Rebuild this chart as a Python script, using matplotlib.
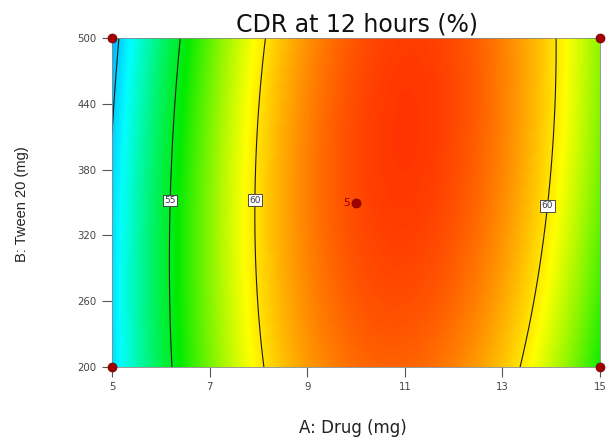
"""Design-Expert style contour of CDR at 12 hours over Drug and Tween 20."""

import numpy as np
import matplotlib.pyplot as plt
from matplotlib.colors import LinearSegmentedColormap, Normalize

plt.rcParams.update({
    'font.family': ['DejaVu Sans'],
})

# ── Model (coded units: A = (drug-10)/5, B = (tween-350)/150) ────────────────
term_names = ['Intercept', 'A', 'B', 'AB', 'A^2', 'B^2']
coefs = [63.03, 3.46, 0.235, 0.716, -9.30, -0.435]

drug_range = [5, 15]
tween_range = [200, 500]
x_ticks = [5, 7, 9, 11, 13, 15]
y_ticks = [200, 260, 320, 380, 440, 500]

plain_levels = [50]
labelled_levels = [55, 60]
label_spots = [(6.15, 352), (7.9, 352), (13.95, 347)]

design_drug = [5, 5, 15, 15, 10]
design_tween = [200, 500, 200, 500, 350]
center_runs = 5

# colour stops (response value, colour)
stop_vals = [48.0, 51.0, 55.5, 59.5, 64.5]
stop_cols = ['#0078ff', '#00ffff', '#00eb00', '#ffff00', '#ff0000']


def response(drug, tween):
    a = (drug - 10) / 5
    b = (tween - 350) / 150
    b0, b1, b2, b12, b11, b22 = coefs
    return b0 + b1*a + b2*b + b12*a*b + b11*a**2 + b22*b**2


fig = plt.figure(figsize=(6.09, 4.38), dpi=100, facecolor='white')
ax = fig.add_axes([0.1839, 0.1621, 0.8013, 0.7511])

xs = np.linspace(*drug_range, 300)
ys = np.linspace(*tween_range, 300)
X, Y = np.meshgrid(xs, ys)
Z = response(X, Y)

vmin, vmax = stop_vals[0], stop_vals[-1]
pos = [(v - vmin) / (vmax - vmin) for v in stop_vals]
cmap = LinearSegmentedColormap.from_list('de', list(zip(pos, stop_cols)))

ax.imshow(Z, origin='lower', aspect='auto', cmap=cmap,
          norm=Normalize(vmin, vmax),
          extent=[*drug_range, *tween_range], interpolation='bilinear')

ax.contour(X, Y, Z, levels=plain_levels, colors='#1a1a1a', linewidths=0.8)
cs = ax.contour(X, Y, Z, levels=labelled_levels, colors='#1a1a1a',
                linewidths=0.8)
labels = ax.clabel(cs, inline=False, fontsize=6.5, fmt='%d',
                   manual=label_spots)
for t in labels:
    t.set_rotation(0)
    t.set_color('#3a3a4a')
    t.set_bbox(dict(facecolor='white', edgecolor='#333333', linewidth=0.6,
                    boxstyle='square,pad=0.15'))

# design points
ax.plot(design_drug, design_tween, 'o', color='#a00000', markersize=6.5,
        markeredgecolor='#700000', markeredgewidth=0.5,
        clip_on=False, zorder=6)
ax.text(design_drug[-1] - 0.12, design_tween[-1], str(center_runs),
        ha='right', va='center', fontsize=7.5, color='#8a0000', zorder=6)

ax.set_xlim(*drug_range)
ax.set_ylim(*tween_range)
ax.set_xticks(x_ticks)
ax.set_yticks(y_ticks)
ax.tick_params(axis='both', length=7, width=0.8, color='#555555',
               labelsize=7.3, labelcolor='#444444', pad=4)
for s in ax.spines.values():
    s.set_color('#888888')
    s.set_linewidth(0.6)

fig.text(0.586, 0.927, 'CDR at 12 hours (%)', ha='center', va='baseline',
         fontsize=17, color='#111111')
fig.text(0.58, 0.012, 'A: Drug (mg)', ha='center', va='baseline',
         fontsize=12, color='#222222')
fig.text(0.036, 0.534, 'B: Tween 20 (mg)', ha='center', va='center',
         rotation=90, fontsize=10.5, color='#222222',
         family=['Liberation Sans Narrow', 'Liberation Sans'])

fig.savefig('out.png', dpi=100)
